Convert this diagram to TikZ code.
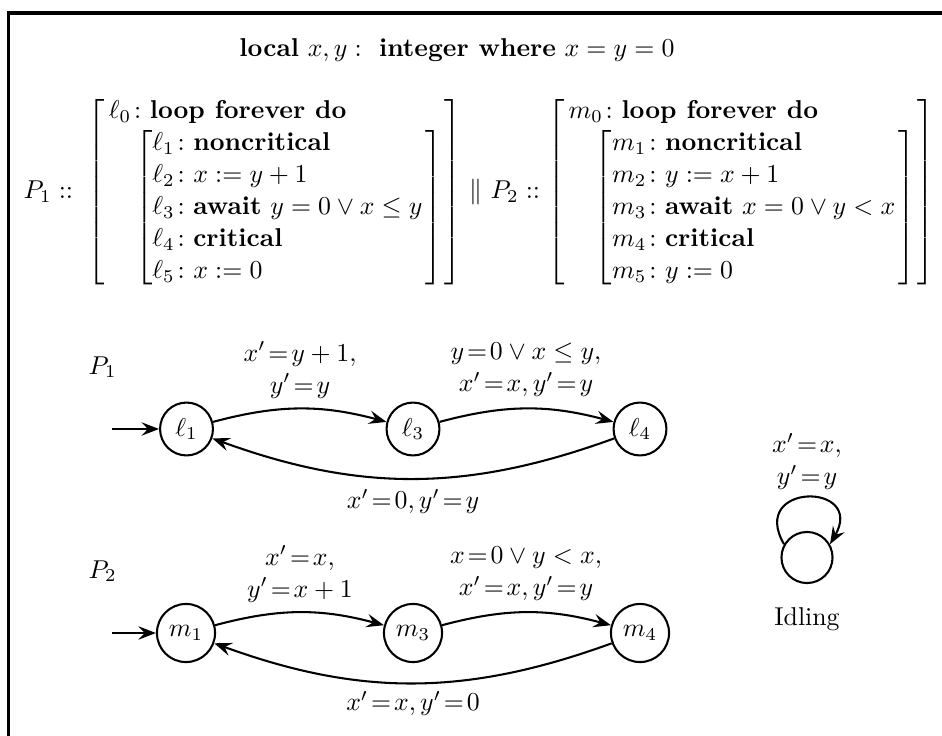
\documentclass[tikz,border=0pt]{standalone}
\usepackage{amsmath}
\usetikzlibrary{arrows.meta}
\newcommand{\kw}[1]{\textbf{#1}}
\newcommand{\teq}{\!=\!}
\begin{document}
\begin{tikzpicture}[x=0.3876pt,y=0.3876pt,
  every node/.style={font=\fontsize{10pt}{12.4pt}\selectfont},
  state/.style={circle,draw,thick,inner sep=3pt},
  conn/.style={->,thick},
  lbl/.style={align=center,inner sep=0pt},
  prog/.style={inner sep=0pt},
  >={Stealth[length=6.8pt,width=5.2pt,inset=2.5pt]}]
\useasboundingbox (0,0) rectangle (942,-736);
\draw[line width=1.45pt] (942,-12.8) -- (8.5,-12.8) -- (8.5,-736);

\node[anchor=base] (hdr) at (457,-57) {\textbf{local} $x,y:$\ \ \textbf{integer where} $x=y=0$};

\node[prog,anchor=west] (p1def) at (23,-192) {$P_1 ::\;\left[\begin{array}{@{\hspace{1.6pt}}l@{\hspace{0.8pt}}}
\ell_0\colon\kw{loop forever do}\\
\hspace{10.2pt}\left[\begin{array}{@{}l@{\hspace{1pt}}}
\ell_1\colon\kw{noncritical}\\
\ell_2\colon x:=y+1\\
\ell_3\colon\kw{await}\ y=0\lor x\le y\\
\ell_4\colon\kw{critical}\\
\ell_5\colon x:=0
\end{array}\right]
\end{array}\right]$};
\node[prog] (par) at (475.5,-192) {$\parallel$};
\node[prog,anchor=west] (p2def) at (490,-192) {$P_2 ::\left[\begin{array}{@{\hspace{1.6pt}}l@{\hspace{0.8pt}}}
m_0\colon\kw{loop forever do}\\
\hspace{10.2pt}\left[\begin{array}{@{}l@{\hspace{1pt}}}
m_1\colon\kw{noncritical}\\
m_2\colon y:=x+1\\
m_3\colon\kw{await}\ x=0\lor y<x\\
m_4\colon\kw{critical}\\
m_5\colon y:=0
\end{array}\right]
\end{array}\right]$};

% P1 automaton
\node[anchor=base west,inner sep=0pt] (P1lab) at (88,-374) {$P_1$};
\node[state] (l1) at (186.5,-429) {$\ell_1$};
\node[state] (l3) at (413,-429) {$\ell_3$};
\node[state] (l4) at (640,-429) {$\ell_4$};
\coordinate (l1in) at (112,-429);
\draw[conn] (l1in) -- (l1);
\draw[conn] (l1) to[bend left=15] (l3);
\draw[conn] (l3) to[bend left=15] (l4);
\draw[conn] (l4) to[bend left=20] (l1);
\node[lbl] (e13) at (300,-370) {$x'\teq y+1,$\\$y'\teq y$};
\node[lbl] (e34) at (526,-370) {$y\teq 0\lor x\le y,$\\$x'\teq x, y'\teq y$};
\node[lbl,anchor=base] (e41) at (413,-508.5) {$x'\teq 0, y'\teq y$};

% P2 automaton
\node[anchor=base west,inner sep=0pt] (P2lab) at (88,-578) {$P_2$};
\node[state] (m1) at (186,-633) {$m_1$};
\node[state] (m3) at (413,-633) {$m_3$};
\node[state] (m4) at (640,-633) {$m_4$};
\coordinate (m1in) at (112,-633);
\draw[conn] (m1in) -- (m1);
\draw[conn] (m1) to[bend left=15] (m3);
\draw[conn] (m3) to[bend left=15] (m4);
\draw[conn] (m4) to[bend left=20] (m1);
\node[lbl] (f13) at (300,-574) {$x'\teq x,$\\$y'\teq x+1$};
\node[lbl] (f34) at (526,-574) {$x\teq 0\lor y<x,$\\$x'\teq x, y'\teq y$};
\node[lbl,anchor=base] (f41) at (413,-710.5) {$x'\teq x, y'\teq 0$};

% Idling
\node[state,minimum size=19.8pt] (idle) at (807,-557.5) {};
\draw[conn] (idle.150) to[out=120,in=60,looseness=4] (idle.30);
\node[lbl] (eidle) at (807,-461.5) {$x'\teq x,$\\$y'\teq y$};
\node[anchor=base] (idlab) at (807,-625.5) {Idling};
\end{tikzpicture}
\end{document}
